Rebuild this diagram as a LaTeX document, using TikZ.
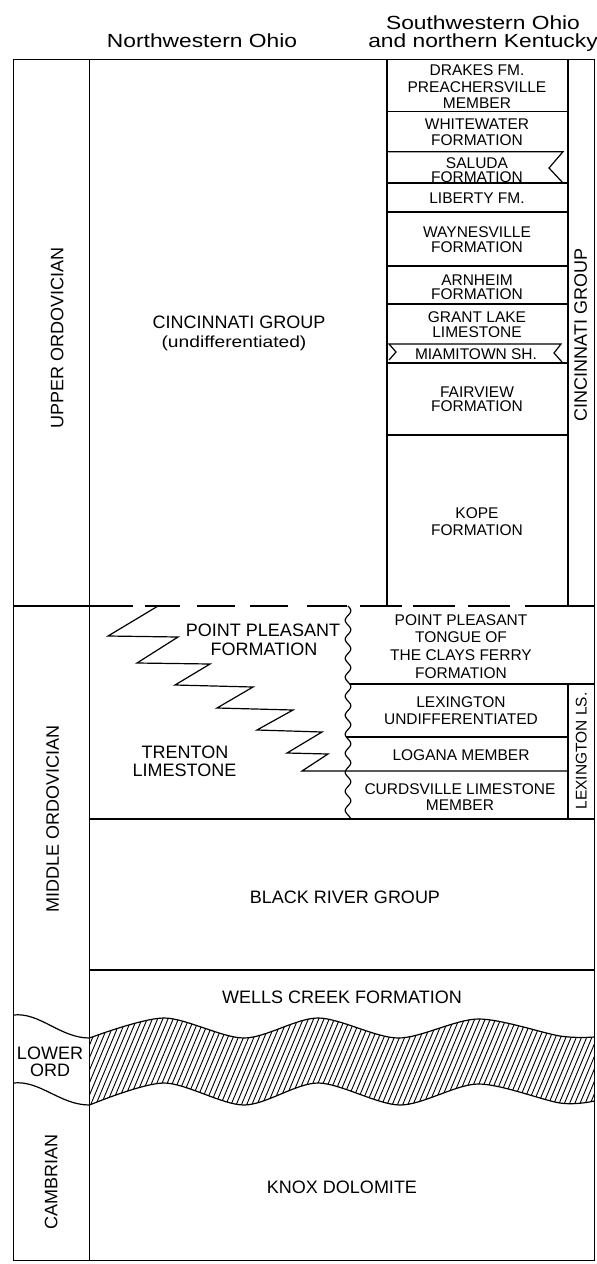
\documentclass[tikz,border=0pt]{standalone}
\usepackage{fontspec}
\setmainfont{Liberation Sans}
\newfontfamily\hdrfont[FakeStretch=1.2]{Liberation Sans}
\begin{document}
\begin{tikzpicture}[x=1pt,y=-1pt,
  ln/.style={line width=1.2pt},
  big/.style={inner sep=0pt, font=\fontsize{18}{19}\selectfont, text height=12.9pt, text depth=0pt},
  sml/.style={inner sep=0pt, font=\fontsize{15.5}{16.5}\selectfont, text height=11.1pt, text depth=0pt},
  hdr/.style={inner sep=0pt, font=\hdrfont\fontsize{19}{21}\selectfont, anchor=base},
  hatch/.style={line width=0.9pt}]
\useasboundingbox (0,0) rectangle (597,1264);
% frame and main columns
\draw[ln] (13.3,59.5) rectangle (594.3,1260.5);
\draw[ln] (89.5,59.5) -- (89.5,1260.5);
\draw[ln] (387,59.5) -- (387,606);
\draw[ln] (568,59.5) -- (568,606);
% upper right rows
\foreach \y in {111.7,183,212,266,304,363,435} \draw[ln] (387,\y) -- (568,\y);
\draw[ln] (387,151.7) -- (563,151.7) -- (549,168) -- (563,183);
\draw[ln] (389,360) -- (396,352) -- (389,344) -- (561,344) -- (554,353) -- (562,362);
% dashed boundary
\foreach \a/\b in {13.3/133,145/180,197/235,250/288,307/347,360/402,413/455,468/510,525/594.3}
  \draw[ln] (\a,606) -- (\b,606);
% wavy vertical contact
\draw[ln] plot[domain=606:819, samples=160, smooth] ({348+2.8*sin(18.947*(\x-606))},\x);
\draw[ln] ({348+2.8*sin(18.947*78)},684) -- (594.3,684);
\draw[ln] ({348+2.8*sin(18.947*131)},737) -- (568,737);
\draw[ln] (568,684) -- (568,819);
% zigzag intertonguing
\draw[ln] (158,606) -- (108,636) -- (178,637) -- (137,663) -- (210,664) -- (175,685)
  -- (253,687) -- (217,708) -- (293,710) -- (257,730) -- (322,732) -- (287,753)
  -- (328,754) -- (302,771) -- (568,771);
% lower rows
\draw[ln] (89.5,819) -- (594.3,819);
\draw[ln] (89.5,970) -- (594.3,970);
% hatched unconformity band
\begin{scope}
\clip plot[smooth] coordinates {(89.5,1038) (164,1018) (244,1038) (318,1018) (398,1038) (478,1019) (560,1036) (594.3,1037)}
  -- plot[smooth] coordinates {(594.3,1101) (560,1103) (478,1084) (400,1105) (318,1083) (244,1105) (164,1083) (89.5,1105)} -- cycle;
\foreach \i in {0,...,120} \draw[hatch] ({25+5.2*\i},1125) -- ({25+5.2*\i+50},1005);
\end{scope}
\draw[ln] plot[smooth] coordinates {(89.5,1038) (164,1018) (244,1038) (318,1018) (398,1038) (478,1019) (560,1036) (594.3,1037)};
\draw[ln] plot[smooth] coordinates {(89.5,1105) (164,1083) (244,1105) (318,1083) (400,1105) (478,1084) (560,1103) (594.3,1101)};
% lower ordovician cell
\draw[ln] (13.3,1015) .. controls (40,1012) and (60,1038) .. (89.5,1038);
\draw[ln] (13.3,1083) .. controls (40,1080) and (60,1105) .. (89.5,1105);
% headers
\node[hdr] (nwo) at (202,47) {Northwestern Ohio};
\node[hdr] (swo) at (483,29.5) {Southwestern Ohio};
\node[hdr] (nky) at (483,47) {and northern Kentucky};
% period labels
\node[big, rotate=90] (upord) at (57,338) {UPPER ORDOVICIAN};
\node[big, rotate=90] (midord) at (52.5,819) {MIDDLE ORDOVICIAN};
\node[big] (lower) at (50,1053) {LOWER};
\node[big] (ord) at (50,1070) {ORD};
\node[big, rotate=90] (camb) at (51,1182) {CAMBRIAN};
% left labels
\node[big] (cinc) at (239,322.5) {CINCINNATI GROUP};
\node[inner sep=0pt, anchor=base, font=\hdrfont\fontsize{16}{18}\selectfont] (undiff) at (234,347) {(undifferentiated)};
\node[big] (ppa) at (263,630) {POINT PLEASANT};
\node[big] (ppb) at (264,649) {FORMATION};
\node[big] (tra) at (185,752) {TRENTON};
\node[big] (trb) at (184.5,770) {LIMESTONE};
\node[big] (black) at (345,897) {BLACK RIVER GROUP};
\node[big] (wells) at (342,997) {WELLS CREEK FORMATION};
\node[big] (knox) at (342,1187) {KNOX DOLOMITE};
% right upper labels
\node[sml] (r1a) at (477,70) {DRAKES FM.};
\node[sml] (r1b) at (477,86.5) {PREACHERSVILLE};
\node[sml] (r1c) at (477,103) {MEMBER};
\node[sml] (r2a) at (477,124) {WHITEWATER};
\node[sml] (r2b) at (477,139.5) {FORMATION};
\node[sml] (r3a) at (477,163) {SALUDA};
\node[sml] (r3b) at (477,176.5) {FORMATION};
\node[sml] (r4) at (477,198) {LIBERTY FM.};
\node[sml] (r5a) at (477,232) {WAYNESVILLE};
\node[sml] (r5b) at (477,247) {FORMATION};
\node[sml] (r6a) at (477,280) {ARNHEIM};
\node[sml] (r6b) at (477,293.5) {FORMATION};
\node[sml] (r7a) at (477,317) {GRANT LAKE};
\node[sml] (r7b) at (477,332) {LIMESTONE};
\node[sml] (r8) at (476,354) {MIAMITOWN SH.};
\node[sml] (r9a) at (477,392) {FAIRVIEW};
\node[sml] (r9b) at (477,406) {FORMATION};
\node[sml] (r10a) at (477,513) {KOPE};
\node[sml] (r10b) at (477,530) {FORMATION};
\node[big, rotate=90] (cgr) at (580.5,335) {CINCINNATI GROUP};
% right middle labels
\node[sml] (t1) at (461,620) {POINT PLEASANT};
\node[sml] (t2) at (461,637) {TONGUE OF};
\node[sml] (t3) at (461,655) {THE CLAYS FERRY};
\node[sml] (t4) at (461,673) {FORMATION};
\node[sml] (lx1) at (461,702) {LEXINGTON};
\node[sml] (lx2) at (461,719) {UNDIFFERENTIATED};
\node[sml] (lg) at (461,755) {LOGANA MEMBER};
\node[sml] (cu1) at (460,789) {CURDSVILLE LIMESTONE};
\node[sml] (cu2) at (460,805) {MEMBER};
\node[sml, rotate=90] (lxls) at (581,751) {LEXINGTON LS.};
\end{tikzpicture}
\end{document}
